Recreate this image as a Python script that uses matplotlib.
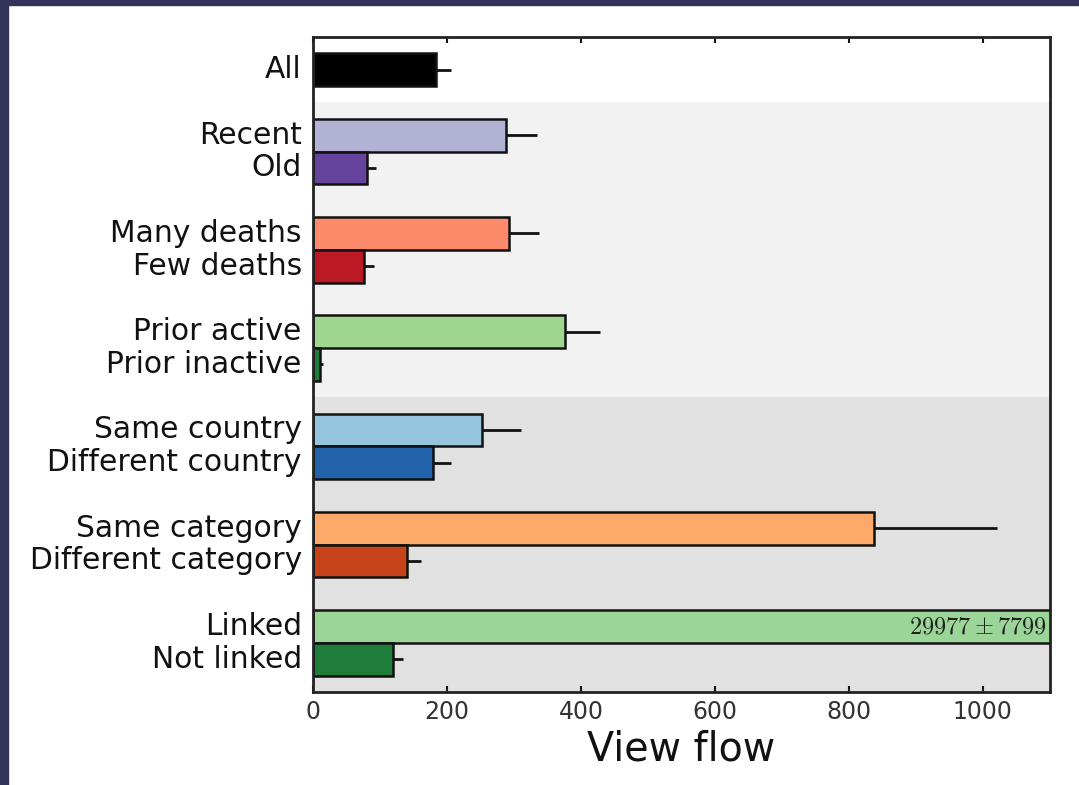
import matplotlib
matplotlib.use("Agg")
import matplotlib.pyplot as plt
from matplotlib.patches import Rectangle
from matplotlib.transforms import ScaledTranslation
import numpy as np

# Category labels, top to bottom, grouped in pairs after the overall bar
labels = ["All",
          "Recent", "Old",
          "Many deaths", "Few deaths",
          "Prior active", "Prior inactive",
          "Same country", "Different country",
          "Same category", "Different category",
          "Linked", "Not linked"]
positions = [0, 2, 3, 5, 6, 8, 9, 11, 12, 14, 15, 17, 18]

# Mean view flow and standard error for each group
means = [183, 288, 80, 292, 77, 377, 10, 253, 179, 838, 140, 29977, 119]
errors = [23, 47, 14, 45, 14, 51, 5, 58, 27, 183, 22, 7799, 15]

colors = ["#000000",
          "#b3b3d6", "#65439c",
          "#fc8a6b", "#bb1a24",
          "#a0d78f", "#1f7d3c",
          "#95c4df", "#2162aa",
          "#fca96a", "#c7441a",
          "#9bd598", "#1f7d3c"]

linked_label = r"$29977 \pm 7799$"

fig = plt.figure(figsize=(10.79, 7.85), dpi=100)
fig.patch.set_facecolor("white")

# Dark frame along the top and left edges
fig.patches.append(Rectangle((0, 0), 0.0075, 1, transform=fig.transFigure,
                             color="#34335a", zorder=-5))
fig.patches.append(Rectangle((0, 0.9935), 1, 0.0065, transform=fig.transFigure,
                             color="#34335a", zorder=-5))

ax = fig.add_axes([0.290, 0.1185, 0.683, 0.8345])
ax.set_xlim(0, 1100)
ax.set_ylim(19, -1)

# Shaded bands behind the bar groups
ax.axhspan(1, 10, color="#f2f2f2", zorder=0, lw=0)
ax.axhspan(10, 19, color="#e1e1e1", zorder=0, lw=0)

err = [np.zeros(len(errors)), errors]
ax.barh(positions, means, height=1.0, color=colors, edgecolor="#111111",
        linewidth=1.8, zorder=2)
ax.errorbar(means, positions, xerr=err, fmt="none", ecolor="#111111",
            elinewidth=2.0, capsize=0, zorder=1)

ax.text(1095, positions[labels.index("Linked")], linked_label,
        ha="right", va="center", fontsize=17.5, math_fontfamily="cm",
        color="#222222", zorder=3)

ax.set_yticks(positions)
ax.set_yticklabels(labels, fontsize=21.4, color="#111111")
ax.tick_params(axis="y", length=0, pad=8)
lift = ScaledTranslation(0, 3 / 100, fig.dpi_scale_trans)
for lbl in ax.get_yticklabels():
    lbl.set_transform(lbl.get_transform() + lift)

ax.set_xticks([0, 200, 400, 600, 800, 1000])
ax.tick_params(axis="x", direction="in", length=4, width=1.5, top=True,
               labelsize=17, colors="#111111", labelcolor="#333333", pad=6)
ax.set_xlabel("View flow", fontsize=28.5, color="#111111", labelpad=4)

for s in ax.spines.values():
    s.set_linewidth(2)
    s.set_color("#222222")
    s.set_zorder(4)

fig.savefig("out.png", dpi=100)
